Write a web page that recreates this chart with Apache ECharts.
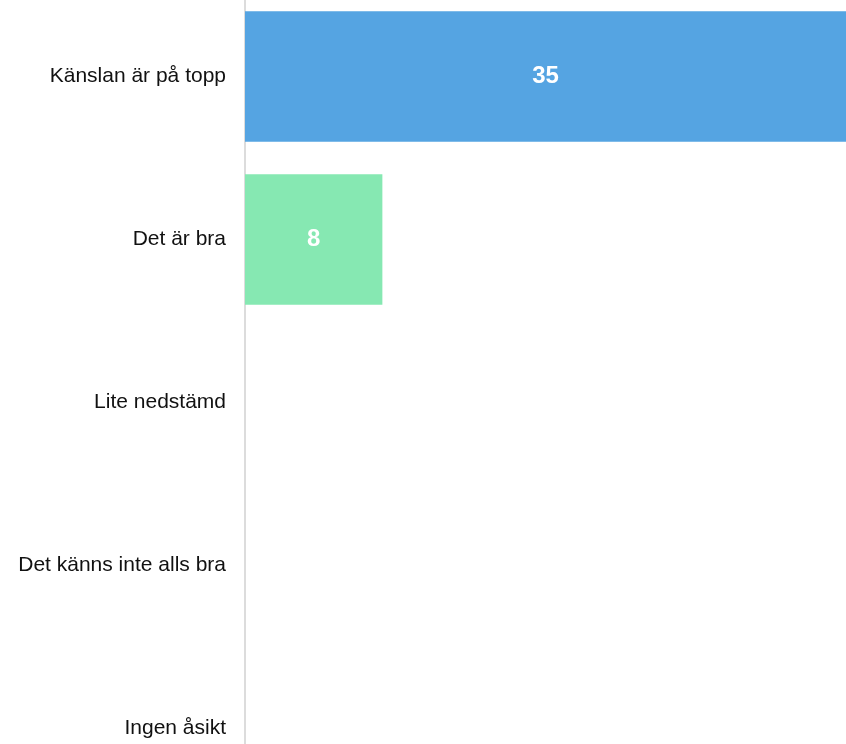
<!DOCTYPE html>
<html><head><meta charset="utf-8">
<script src="https://cdn.jsdelivr.net/npm/echarts@6/dist/echarts.min.js"></script>
<style>html,body{margin:0;padding:0;background:#fff}#c{width:846px;height:744px}</style>
</head><body><div id="c"></div>
<script>
const categories = ["Känslan är på topp", "Det är bra", "Lite nedstämd", "Det känns inte alls bra", "Ingen åsikt"];
const values = [35, 8, 0, 0, 0];
const colors = ["#55a4e2", "#86e8b2", "#f2b36b", "#ee7d7d", "#b9b9b9"];

const chart = echarts.init(document.getElementById('c'), null, {renderer: 'canvas'});
chart.setOption({
  animation: false,
  grid: {left: 245, width: 601, top: -5, height: 815, containLabel: false, outerBoundsMode: 'none'},
  xAxis: {type: 'value', min: 0, max: 35, show: false},
  yAxis: {
    type: 'category', inverse: true, data: categories,
    axisLine: {show: true, lineStyle: {color: '#dcdcdc', width: 2}},
    axisTick: {show: false},
    axisLabel: {margin: 19, color: '#111', fontSize: 21, fontFamily: 'Liberation Sans, Arial, sans-serif'},
    splitLine: {show: false}
  },
  series: [{
    type: 'bar', barCategoryGap: '20%',
    data: values.map((v, i) => ({value: v, itemStyle: {color: colors[i]}, label: {show: v > 0}})),
    label: {position: 'inside', color: '#fff', fontWeight: 'bold', fontSize: 24, fontFamily: 'Liberation Sans, Arial, sans-serif'}
  }]
});
</script></body></html>
